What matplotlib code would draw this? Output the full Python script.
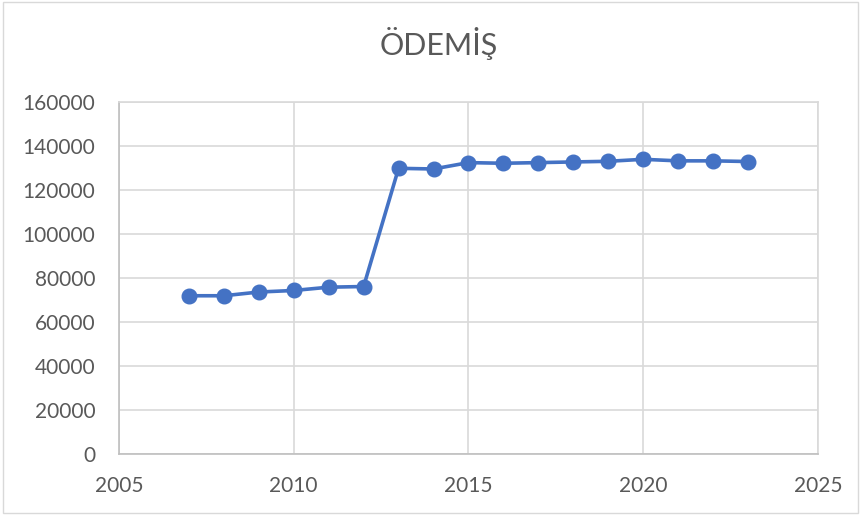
import matplotlib
matplotlib.use("Agg")
import matplotlib.pyplot as plt
from matplotlib.patches import Rectangle

# data
years = [2007, 2008, 2009, 2010, 2011, 2012, 2013, 2014, 2015,
         2016, 2017, 2018, 2019, 2020, 2021, 2022, 2023]
population = [71800, 71800, 73500, 74200, 75700, 76000, 129800, 129500, 132400,
              132100, 132400, 132700, 133000, 133900, 133200, 133200, 132900]

x_ticks = [2005, 2010, 2015, 2020, 2025]
y_ticks = [0, 20000, 40000, 60000, 80000, 100000, 120000, 140000, 160000]

plt.rcParams['font.family'] = ['Lato', 'DejaVu Sans']
text_color = '#595959'
grid_color = '#d9d9d9'

fig = plt.figure(figsize=(8.61, 5.15), dpi=100)
ax = fig.add_axes([0.1382, 0.1194, 0.8118, 0.6826])

# line with markers
ax.plot(years, population, color='#4472C4', linewidth=2.6,
        marker='o', markersize=10.5, zorder=3)

ax.set_xlim(2005, 2025)
ax.set_ylim(0, 160000)
ax.set_xticks(x_ticks)
ax.set_yticks(y_ticks)
ax.set_xticklabels([str(t) for t in x_ticks])
ax.set_yticklabels([str(t) for t in y_ticks])

ax.grid(True, color=grid_color, linewidth=1.2)
ax.set_axisbelow(True)
for side in ['top', 'right']:
    ax.spines[side].set_color(grid_color)
    ax.spines[side].set_linewidth(1.2)
for side in ['left', 'bottom']:
    ax.spines[side].set_color('#bfbfbf')
    ax.spines[side].set_linewidth(1.2)

ax.tick_params(axis='both', length=0, labelsize=15, labelcolor=text_color)
ax.tick_params(axis='y', pad=17)
ax.tick_params(axis='x', pad=16)

fig.text(0.51, 0.915, 'ÖDEMİŞ', ha='center', va='center',
         fontsize=22, color=text_color)

# chart area border
fig.patches.append(Rectangle((0.004, 0.004), 0.992, 0.992, transform=fig.transFigure,
                             fill=False, edgecolor=grid_color, linewidth=1.0))

fig.savefig('out.png', dpi=100)
